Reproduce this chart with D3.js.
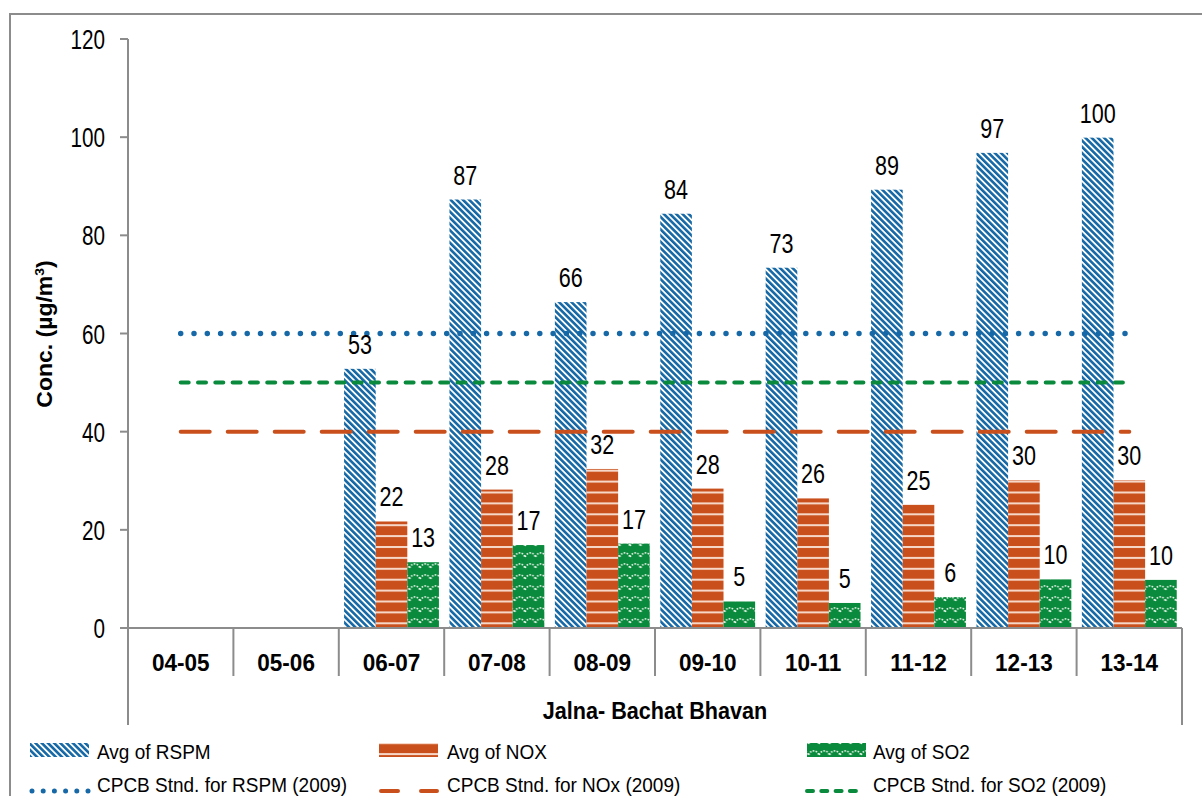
<!DOCTYPE html>
<html>
<head>
<meta charset="utf-8">
<script src="https://cdn.jsdelivr.net/npm/d3@7/dist/d3.min.js"></script>
<style>
  html, body { margin: 0; padding: 0; background: #fff; }
  svg { display: block; font-family: "Liberation Sans", Arial, sans-serif; }
</style>
</head>
<body>
<svg id="chart" width="1202" height="796"></svg>
<script>
// ---------------- data ----------------
const categories = ["04-05", "05-06", "06-07", "07-08", "08-09", "09-10", "10-11", "11-12", "12-13", "13-14"];
const rspmValues = [null, null, 52.8, 87.3, 66.4, 84.4, 73.4, 89.3, 96.8, 99.9];
const noxValues  = [null, null, 21.7, 28.2, 32.4, 28.4, 26.4, 25.1, 30.1, 30.1];
const so2Values  = [null, null, 13.4, 16.9, 17.2, 5.4, 5.1, 6.3, 9.9, 9.8];
const seriesNames = ["Avg of RSPM", "Avg of NOX", "Avg of SO2"];
const standardNames = ["CPCB Stnd. for RSPM (2009)", "CPCB Stnd. for NOx (2009)", "CPCB Stnd. for SO2 (2009)"];
const standardValues = [60, 40, 50];
const yTickValues = [0, 20, 40, 60, 80, 100, 120];
const groupLabel = "Jalna- Bachat Bhavan";

// ---------------- setup ----------------
const svg = d3.select("#chart");
const blue = "#1669a6", orange = "#c9501c", green = "#0a8a3c", axisGrey = "#8c8c8c";

const plotLeft = 128, plotRight = 1182, plotTop = 39, plotBottom = 628;
const y = d3.scaleLinear().domain([0, 120]).range([plotBottom, plotTop]);
const x0 = d3.scaleBand().domain(categories).range([plotLeft, plotRight]).padding(0);
const bw = x0.bandwidth();
const x1 = d3.scaleBand().domain(seriesNames).range([bw * 0.05, bw * 0.95]).padding(0);

function txt(parent, x, yy, s, o) {
  return parent.append("text")
    .attr("transform", `translate(${x},${yy}) scale(${o.sx || 1},1)`)
    .attr("font-size", o.size)
    .attr("font-weight", o.weight || "normal")
    .attr("text-anchor", o.anchor || "start")
    .attr("fill", "#000")
    .text(s);
}

// ---------------- patterns ----------------
const defs = svg.append("defs");
// RSPM: blue wide downward diagonal
const pR = defs.append("pattern").attr("id", "pRSPM").attr("patternUnits", "userSpaceOnUse")
  .attr("width", 4.4).attr("height", 4.4).attr("patternTransform", "rotate(-45)");
pR.append("rect").attr("width", 4.4).attr("height", 4.4).attr("fill", "#fff");
pR.append("rect").attr("width", 2.6).attr("height", 4.4).attr("fill", blue);
// NOx: orange with thin light horizontal lines
const pN = defs.append("pattern").attr("id", "pNOX").attr("patternUnits", "userSpaceOnUse")
  .attr("width", 10).attr("height", 10.9).attr("y", 1);
pN.append("rect").attr("width", 10).attr("height", 10.9).attr("fill", orange);
pN.append("rect").attr("y", 0).attr("width", 10).attr("height", 2).attr("fill", "#f6d7c8");
// SO2: green with white dotted waves
const pS = defs.append("pattern").attr("id", "pSO2").attr("patternUnits", "userSpaceOnUse")
  .attr("width", 10.5).attr("height", 11);
pS.append("rect").attr("width", 10.5).attr("height", 11).attr("fill", green);
pS.append("path").attr("d", "M0,7 C2.5,1.5 8,1.5 10.5,7")
  .attr("fill", "none").attr("stroke", "#e8f5ea").attr("stroke-width", 1.6)
  .attr("stroke-dasharray", "1.6 1.4");

const fills = ["url(#pRSPM)", "url(#pNOX)", "url(#pSO2)"];
const seriesData = [rspmValues, noxValues, so2Values];

// ---------------- outer border ----------------
svg.append("rect").attr("x", 10).attr("y", 14).attr("width", 1200).attr("height", 800)
  .attr("fill", "none").attr("stroke", axisGrey).attr("stroke-width", 2);

// ---------------- bars ----------------
const barsG = svg.append("g");
categories.forEach((c, i) => {
  seriesNames.forEach((s, j) => {
    const v = seriesData[j][i];
    if (v == null) return;
    barsG.append("rect")
      .attr("x", x0(c) + x1(s))
      .attr("y", y(v))
      .attr("width", x1.bandwidth())
      .attr("height", y(0) - y(v))
      .attr("fill", fills[j]);
  });
});

// ---------------- standard lines ----------------
const lineX0 = x0(categories[0]) + bw / 2;
const lineX1 = x0(categories[categories.length - 1]) + bw / 2;
const lineStyles = [
  { color: blue, width: 5.5, dash: "0 13.3" },
  { color: orange, width: 4, dash: "29 18" },
  { color: green, width: 4, dash: "8 9.3" }
];
standardValues.forEach((v, k) => {
  const ls = lineStyles[k];
  svg.append("line").attr("x1", lineX0).attr("x2", lineX1).attr("y1", y(v)).attr("y2", y(v))
    .attr("stroke", ls.color).attr("stroke-width", ls.width).attr("stroke-linecap", "round")
    .attr("stroke-dasharray", ls.dash);
});

// ---------------- data labels ----------------
categories.forEach((c, i) => {
  seriesNames.forEach((s, j) => {
    const v = seriesData[j][i];
    if (v == null) return;
    txt(svg, x0(c) + x1(s) + x1.bandwidth() / 2, y(v) - 15, String(Math.round(v)),
      { size: 28, sx: 0.77, anchor: "middle" });
  });
});

// ---------------- y axis ----------------
const axG = svg.append("g");
axG.append("line").attr("x1", plotLeft).attr("x2", plotLeft).attr("y1", plotTop).attr("y2", 725)
  .attr("stroke", axisGrey).attr("stroke-width", 2);
yTickValues.forEach(t => {
  axG.append("line").attr("x1", 120).attr("x2", plotLeft).attr("y1", y(t)).attr("y2", y(t))
    .attr("stroke", axisGrey).attr("stroke-width", 2);
  txt(axG, 105, y(t) + 10, String(t), { size: 28, sx: 0.74, anchor: "end" });
});

// axis title
const title = svg.append("text")
  .attr("transform", "translate(52,334) scale(0.92,1) rotate(-90)")
  .attr("font-size", 23).attr("font-weight", "bold").attr("text-anchor", "middle");
title.append("tspan").text("Conc. (µg/m");
title.append("tspan").attr("font-size", 14).attr("dy", -9).text("3");
title.append("tspan").attr("dy", 9).text(")");

// ---------------- x axis ----------------
axG.append("line").attr("x1", 120).attr("x2", plotRight).attr("y1", plotBottom).attr("y2", plotBottom)
  .attr("stroke", axisGrey).attr("stroke-width", 2);
categories.forEach((c, i) => {
  if (i > 0) {
    axG.append("line").attr("x1", x0(c)).attr("x2", x0(c)).attr("y1", plotBottom).attr("y2", 676)
      .attr("stroke", axisGrey).attr("stroke-width", 2);
  }
  txt(axG, x0(c) + bw / 2, 671, c, { size: 24.5, sx: 0.92, anchor: "middle", weight: "bold" });
});
axG.append("line").attr("x1", plotRight).attr("x2", plotRight).attr("y1", plotBottom).attr("y2", 725)
  .attr("stroke", axisGrey).attr("stroke-width", 2);
txt(axG, (plotLeft + plotRight) / 2, 719, groupLabel, { size: 23, sx: 0.94, anchor: "middle", weight: "bold" });

// ---------------- legend ----------------
const legG = svg.append("g");
const legCols = [
  { sw: 30, tx: 97, lx1: 32, lx2: 88, dash: "0 11.2", w: 5 },
  { sw: 379, tx: 447, lx1: 381, lx2: 437, dash: "17 23", w: 4 },
  { sw: 807, tx: 873, lx1: 807, lx2: 857, dash: "6 8.3", w: 4 }
];
seriesNames.forEach((s, j) => {
  const lc = legCols[j];
  legG.append("rect").attr("x", lc.sw).attr("y", 743).attr("width", 59).attr("height", 14).attr("fill", fills[j]);
  txt(legG, lc.tx, 759, s, { size: 20, sx: 0.95 });
});
standardNames.forEach((s, k) => {
  const lc = legCols[k];
  const colr = lineStyles[k].color;
  legG.append("line").attr("x1", lc.lx1).attr("x2", lc.lx2).attr("y1", 791).attr("y2", 791)
    .attr("stroke", colr).attr("stroke-width", lc.w).attr("stroke-linecap", "round")
    .attr("stroke-dasharray", lc.dash);
  txt(legG, lc.tx, 792, s, { size: 20, sx: 0.95 });
});
</script>
</body>
</html>
